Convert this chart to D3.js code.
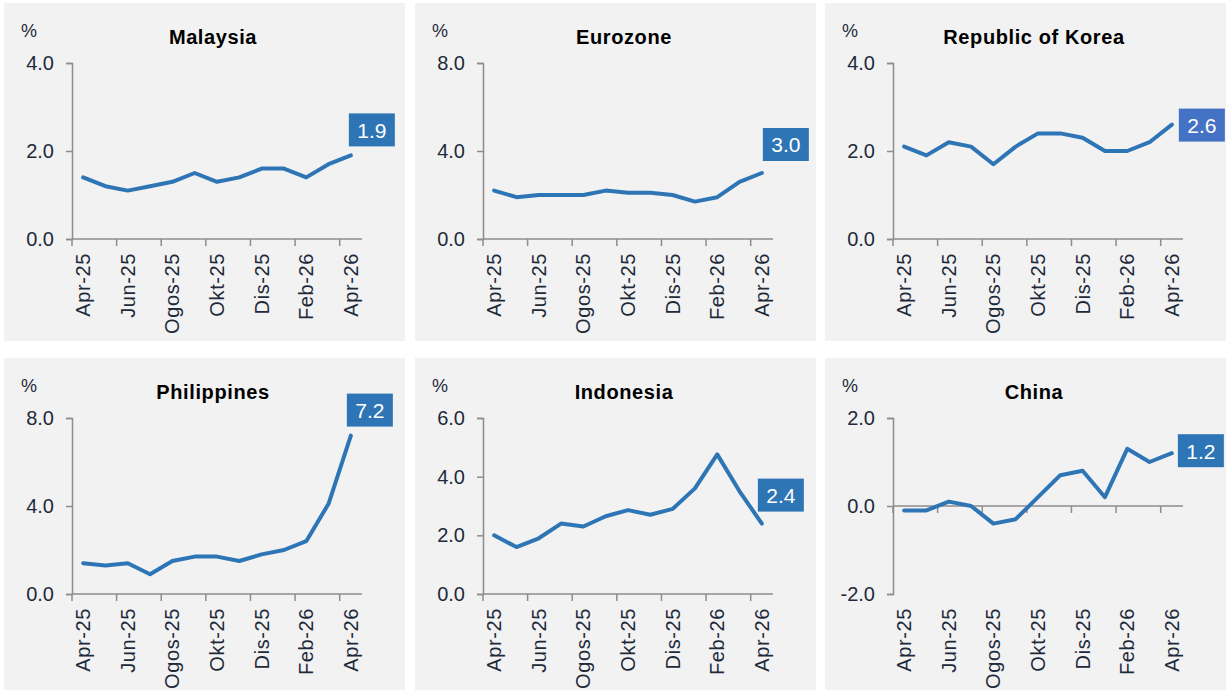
<!DOCTYPE html>
<html>
<head>
<meta charset="utf-8">
<script src="https://cdn.jsdelivr.net/npm/d3@7"></script>
<style>
  body { margin: 0; background: #fff; }
  svg { display: block; font-family: "Liberation Sans", Arial, sans-serif; }
</style>
</head>
<body>
<div id="chart"></div>
<script>
const months = ["Apr-25", "Mei-25", "Jun-25", "Jul-25", "Ogos-25", "Sep-25", "Okt-25",
  "Nov-25", "Dis-25", "Jan-26", "Feb-26", "Mac-26", "Apr-26"];
const shownMonths = ["Apr-25", "Jun-25", "Ogos-25", "Okt-25", "Dis-25", "Feb-26", "Apr-26"];

const titles = ["Malaysia", "Eurozone", "Republic of Korea", "Philippines", "Indonesia", "China"];

const malaysia = [1.4, 1.2, 1.1, 1.2, 1.3, 1.5, 1.3, 1.4, 1.6, 1.6, 1.4, 1.7, 1.9];
const eurozone = [2.2, 1.9, 2.0, 2.0, 2.0, 2.2, 2.1, 2.1, 2.0, 1.7, 1.9, 2.6, 3.0];
const korea = [2.1, 1.9, 2.2, 2.1, 1.7, 2.1, 2.4, 2.4, 2.3, 2.0, 2.0, 2.2, 2.6];
const philippines = [1.4, 1.3, 1.4, 0.9, 1.5, 1.7, 1.7, 1.5, 1.8, 2.0, 2.4, 4.1, 7.2];
const indonesia = [2.0, 1.6, 1.9, 2.4, 2.3, 2.65, 2.86, 2.7, 2.9, 3.6, 4.76, 3.5, 2.4];
const china = [-0.1, -0.1, 0.1, 0.0, -0.4, -0.3, 0.2, 0.7, 0.8, 0.2, 1.3, 1.0, 1.2];

const yTicks = [[0, 2, 4], [0, 4, 8], [0, 2, 4], [0, 4, 8], [0, 2, 4, 6], [-2, 0, 2]];

const series = [malaysia, eurozone, korea, philippines, indonesia, china];

// label box offset from the last point, and box colour
const labelPos = [
  { dx: -2, dy: -42, fill: "#2e75b6" },
  { dx: 1, dy: -45, fill: "#2e75b6" },
  { dx: 7, dy: -16, fill: "#4472c4" },
  { dx: -4, dy: -42, fill: "#2e75b6" },
  { dx: -4, dy: -45, fill: "#2e75b6" },
  { dx: 6, dy: -19, fill: "#2e75b6" }
];

const W = 1226, H = 690;
const panelX = [4, 415, 825], panelY = [3, 358];
const panelW = 401, panelH = [338, 332];
const plotLeft = 68, plotW = 290, plotTop = 60, plotH = 176;

const svg = d3.select("#chart").append("svg")
  .attr("width", W).attr("height", H);

// plain hyphen for negatives, like the source chart
const fmt = (d) => d.toFixed(1);
const textColor = "#1e2a3a";
const axisColor = "#8c8c8c";

series.forEach((values, i) => {
  const col = i % 3, row = Math.floor(i / 3);
  const g = svg.append("g")
    .attr("transform", `translate(${panelX[col]},${panelY[row]})`);

  g.append("rect")
    .attr("width", panelW).attr("height", panelH[row])
    .attr("fill", "#f2f2f2");

  const x = d3.scaleBand().domain(months).range([plotLeft, plotLeft + plotW]);
  const ticks = yTicks[i];
  const y = d3.scaleLinear()
    .domain([ticks[0], ticks[ticks.length - 1]])
    .range([plotTop + plotH, plotTop]);

  const cx = (m) => x(m) + x.bandwidth() / 2;

  // title and unit
  g.append("text")
    .attr("x", plotLeft + plotW / 2 - 4)
    .attr("y", 41)
    .attr("text-anchor", "middle")
    .style("font-size", "20px")
    .style("letter-spacing", "0.6px")
    .style("font-weight", "bold")
    .style("fill", "#000")
    .text(titles[i]);

  g.append("text")
    .attr("x", 17)
    .attr("y", 34)
    .style("font-size", "18px")
    .style("fill", textColor)
    .text("%");

  // y axis
  const yAxis = g.append("g")
    .attr("transform", `translate(${plotLeft},0)`)
    .call(d3.axisLeft(y).tickValues(ticks).tickFormat(fmt).tickSize(6).tickPadding(12));
  yAxis.select(".domain").attr("stroke", axisColor).attr("stroke-width", 1.5);
  yAxis.selectAll(".tick line").attr("stroke", axisColor).attr("stroke-width", 1.5);
  yAxis.selectAll(".tick text")
    .style("font-size", "20px")
    .style("fill", textColor)
    .style("font-family", "'Liberation Sans', Arial, sans-serif");

  // x axis line at zero, with tick marks between categories
  const y0 = y(0);
  g.append("line")
    .attr("x1", plotLeft).attr("x2", plotLeft + plotW)
    .attr("y1", y0).attr("y2", y0)
    .attr("stroke", axisColor).attr("stroke-width", 1.5);

  const tickMonths = months.filter((m, k) => k % 2 === 0);
  g.selectAll(".xtick")
    .data(tickMonths)
    .enter()
    .append("line")
    .attr("x1", (m) => x(m)).attr("x2", (m) => x(m))
    .attr("y1", y0).attr("y2", y0 + 7)
    .attr("stroke", axisColor).attr("stroke-width", 1.5);

  // x labels sit below the plot area
  const labelY = plotTop + plotH + 14;
  g.selectAll(".xlab")
    .data(shownMonths)
    .enter()
    .append("text")
    .attr("transform", (m) => `translate(${cx(m)},${labelY}) rotate(-90)`)
    .attr("text-anchor", "end")
    .attr("dy", "0.35em")
    .style("font-size", "20px")
    .style("letter-spacing", "0.6px")
    .style("fill", textColor)
    .text((m) => m);

  // line
  const line = d3.line()
    .x((d, k) => cx(months[k]))
    .y((d) => y(d));

  g.append("path")
    .datum(values)
    .attr("d", line)
    .attr("fill", "none")
    .attr("stroke", "#2e75b6")
    .attr("stroke-width", 4)
    .attr("stroke-linejoin", "round")
    .attr("stroke-linecap", "round");

  // last value label
  const last = values[values.length - 1];
  const lp = labelPos[i];
  const bx = cx(months[months.length - 1]) + lp.dx;
  const by = y(last) + lp.dy;
  g.append("rect")
    .attr("x", bx).attr("y", by)
    .attr("width", 46).attr("height", 33)
    .attr("fill", lp.fill);
  g.append("text")
    .attr("x", bx + 23).attr("y", by + 17)
    .attr("text-anchor", "middle")
    .attr("dy", "0.35em")
    .style("font-size", "21px")
    .style("fill", "#fff")
    .text(fmt(last));
});
</script>
</body>
</html>
